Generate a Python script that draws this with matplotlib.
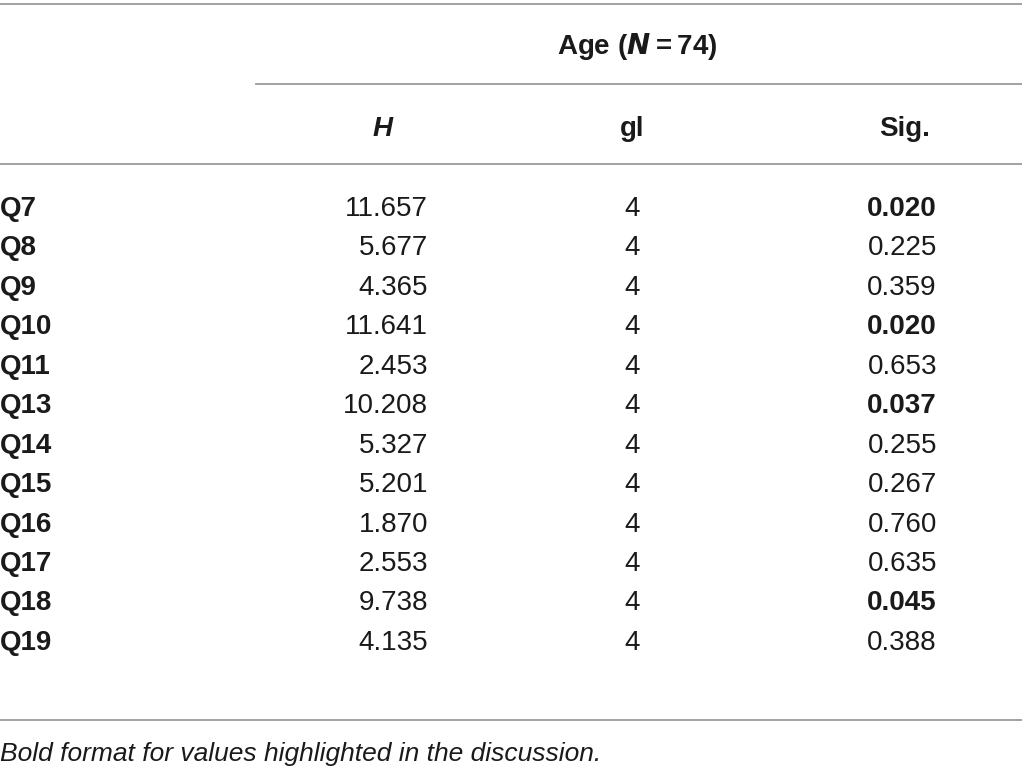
import matplotlib.pyplot as plt

plt.rcParams['font.family'] = ['Liberation Sans', 'DejaVu Sans']

questions = ['Q7', 'Q8', 'Q9', 'Q10', 'Q11', 'Q13', 'Q14', 'Q15', 'Q16', 'Q17', 'Q18', 'Q19']
h_values = ['11.657', '5.677', '4.365', '11.641', '2.453', '10.208', '5.327', '5.201', '1.870', '2.553', '9.738', '4.135']
gl_values = ['4'] * 12
sig_values = ['0.020', '0.225', '0.359', '0.020', '0.653', '0.037', '0.255', '0.267', '0.760', '0.635', '0.045', '0.388']
bold_sig = [True, False, False, True, False, True, False, False, False, False, True, False]
footnote = 'Bold format for values highlighted in the discussion.'

W, H = 1022, 772
fig = plt.figure(figsize=(W / 100, H / 100), dpi=100)
ax = fig.add_axes([0, 0, 1, 1])
ax.set_xlim(0, W)
ax.set_ylim(H, 0)
ax.axis('off')

fs = 20
line_col = '#9a9a9a'
txt_col = '#1a1a1a'

# rules
ax.plot([0, W], [4, 4], color=line_col, lw=1.3)
ax.plot([256, W], [84, 84], color=line_col, lw=1.3)
ax.plot([0, W], [164, 164], color=line_col, lw=1.3)
ax.plot([0, W], [720, 720], color=line_col, lw=1.3)

# header
ax.text(637, 46, 'Age ($\\mathbfit{N}$\u2009=\u200974)', ha='center', va='center', fontsize=fs,
        fontweight='bold', color=txt_col)
ax.text(383, 129, 'H', ha='center', va='center', fontsize=fs, fontweight='bold',
        style='italic', color=txt_col)
ax.text(632, 129, 'gl', ha='center', va='center', fontsize=fs, fontweight='bold', color=txt_col)
ax.text(905, 129, 'Sig.', ha='center', va='center', fontsize=fs, fontweight='bold', color=txt_col)

y0, dy = 209, 39.45
for i, q in enumerate(questions):
    y = y0 + i * dy
    ax.text(0, y, q, ha='left', va='center', fontsize=fs, fontweight='bold', color=txt_col)
    ax.text(428, y, h_values[i], ha='right', va='center', fontsize=fs, color=txt_col)
    ax.text(632, y, gl_values[i], ha='center', va='center', fontsize=fs, color=txt_col)
    ax.text(937, y, sig_values[i], ha='right', va='center', fontsize=fs, color=txt_col,
            fontweight='bold' if bold_sig[i] else 'normal')

ax.text(0, 754, footnote, ha='left', va='center', fontsize=19, style='italic', color=txt_col)

fig.savefig('out.png', dpi=100)
